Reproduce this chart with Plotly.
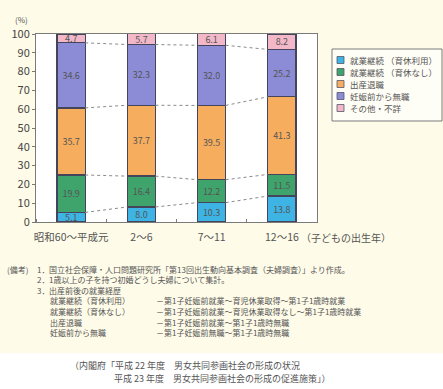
import plotly.graph_objects as go

# ---- data ----
periods = ["昭和60～平成元", "2～6", "7～11", "12～16"]
series_names = ["就業継続（育休利用）", "就業継続（育休なし）", "出産退職", "妊娠前から無職", "その他・不詳"]
keep_leave = [5.1, 8.0, 10.3, 13.8]
keep_noleave = [19.9, 16.4, 12.2, 11.5]
quit_birth = [35.7, 37.7, 39.5, 41.3]
jobless_before = [34.6, 32.3, 32.0, 25.2]
other = [4.7, 5.7, 6.1, 8.2]
series_values = [keep_leave, keep_noleave, quit_birth, jobless_before, other]
series_colors = ["#3db4e4", "#3fa46c", "#f6ad5e", "#8c8cd6", "#f2b8c8"]

y_ticks = [0, 10, 20, 30, 40, 50, 60, 70, 80, 90, 100]

notes = [
    ("(備考)", "1．", "国立社会保障・人口問題研究所「第13回出生動向基本調査（夫婦調査）」より作成。"),
    ("", "2．", "1歳以上の子を持つ初婚どうし夫婦について集計。"),
    ("", "3．", "出産前後の就業経歴"),
]
career_rows = [
    ("就業継続（育休利用）", "－第1子妊娠前就業～育児休業取得～第1子1歳時就業"),
    ("就業継続（育休なし）", "－第1子妊娠前就業～育児休業取得なし～第1子1歳時就業"),
    ("出産退職", "－第1子妊娠前就業～第1子1歳時無職"),
    ("妊娠前から無職", "－第1子妊娠前無職～第1子1歳時無職"),
]
source_lines = [
    "（内閣府「平成 22 年度　男女共同参画社会の形成の状況",
    "平成 23 年度　男女共同参画社会の形成の促進施策」）",
]

FONT = "Noto Sans CJK JP"
TXT = "#555555"
W, H = 443, 389
ML, MR, MT, MB = 36, 126, 34, 167
PW, PH = W - ML - MR, H - MT - MB
BAR_W = 0.4


def px(x):
    return (x - ML) / PW


def py(y):
    return (H - MB - y) / PH


xs = list(range(len(periods)))
fig = go.Figure()

for name, vals, col in zip(series_names, series_values, series_colors):
    fig.add_trace(go.Bar(
        x=xs, y=vals, name=name, width=BAR_W,
        marker=dict(color=col, line=dict(color="#44445a", width=1.3)),
        text=vals, texttemplate="%{y:.1f}", textposition="inside",
        insidetextanchor="middle", textangle=0, constraintext="none",
        textfont=dict(family=FONT, size=9, color=TXT),
        hoverinfo="skip", showlegend=False,
    ))

# dotted connectors between neighbouring bars at each segment boundary
cum = [0.0] * len(periods)
for vals in series_values[:-1]:
    cum = [c + v for c, v in zip(cum, vals)]
    for i in range(len(periods) - 1):
        fig.add_trace(go.Scatter(
            x=[xs[i] + BAR_W / 2, xs[i + 1] - BAR_W / 2], y=[cum[i], cum[i + 1]],
            mode="lines", line=dict(color="#8a8a8a", width=1, dash="dot"),
            showlegend=False, hoverinfo="skip",
        ))

fig.update_layout(
    width=W, height=H,
    margin=dict(l=ML, r=MR, t=MT, b=MB),
    barmode="stack",
    paper_bgcolor="#fefbe8",
    plot_bgcolor="#ffffff",
    font=dict(family=FONT, color="#444444"),
    showlegend=False,
    xaxis=dict(
        range=[-0.5, 3.5], tickvals=xs, ticktext=periods, ticks="",
        tickfont=dict(size=10.5, color=TXT), ticklabelstandoff=5,
        showline=True, linecolor="#7a7a7a", mirror=True, showgrid=False,
        zeroline=False,
        minor=dict(tick0=0.5, dtick=1, ticks="inside", ticklen=3, tickcolor="#7a7a7a"),
    ),
    yaxis=dict(
        range=[0, 100], tickvals=y_ticks, ticks="outside", ticklen=3,
        tickcolor="#7a7a7a", tickfont=dict(size=11, color="#444444"),
        showline=True, linecolor="#7a7a7a", mirror=True, showgrid=False,
        zeroline=False,
    ),
)

shapes = []
# white band behind the citation below the cream panel
shapes.append(dict(type="rect", xref="paper", yref="paper", layer="below",
                   x0=px(0), x1=px(W), y0=py(353), y1=py(H),
                   fillcolor="#ffffff", line=dict(width=0)))

ann = []

# legend box with coloured keys
shapes.append(dict(type="rect", xref="paper", yref="paper",
                   x0=px(332), x1=px(442), y0=py(49), y1=py(121),
                   fillcolor="#fffef6", line=dict(color="#7a7a7a", width=1)))
for k, (name, col) in enumerate(zip(series_names, series_colors)):
    yc = 60 + k * 12
    shapes.append(dict(type="rect", xref="paper", yref="paper",
                       x0=px(337), x1=px(344), y0=py(yc - 3.5), y1=py(yc + 3.5),
                       fillcolor=col, line=dict(color="#55556a", width=0.8)))
    ann.append(dict(x=px(348), y=py(yc), text=name.replace("（", " （"), xanchor="left",
                    font=dict(size=8.5, color=TXT)))

ann.append(dict(x=px(21), y=py(19), text="(%)", font=dict(size=8, color=TXT)))
ann.append(dict(x=px(299), y=py(238), text="（子どもの出生年）", xanchor="left",
                font=dict(size=10, color=TXT)))

row_y = 269
for head, num, body in notes:
    if head:
        ann.append(dict(x=px(5), y=py(row_y), text=head, xanchor="left",
                        font=dict(size=8, color=TXT)))
    ann.append(dict(x=px(35), y=py(row_y), text=num, xanchor="left",
                    font=dict(size=8, color=TXT)))
    ann.append(dict(x=px(47), y=py(row_y), text=body, xanchor="left",
                    font=dict(size=8, color=TXT)))
    row_y += 10.6
for left, right in career_rows:
    ann.append(dict(x=px(48), y=py(row_y), text=left, xanchor="left",
                    font=dict(size=8, color=TXT)))
    ann.append(dict(x=px(154), y=py(row_y), text=right, xanchor="left",
                    font=dict(size=8, color=TXT)))
    row_y += 10.6

ann.append(dict(x=px(68), y=py(365), text=source_lines[0], xanchor="left",
                font=dict(size=9, color=TXT)))
ann.append(dict(x=px(112), y=py(378), text=source_lines[1], xanchor="left",
                font=dict(size=9, color=TXT)))

for a in ann:
    a.update(xref="paper", yref="paper", showarrow=False, yanchor="middle")
    a.setdefault("xanchor", "center")
fig.update_layout(annotations=ann, shapes=shapes)

fig.write_html("out.html")
